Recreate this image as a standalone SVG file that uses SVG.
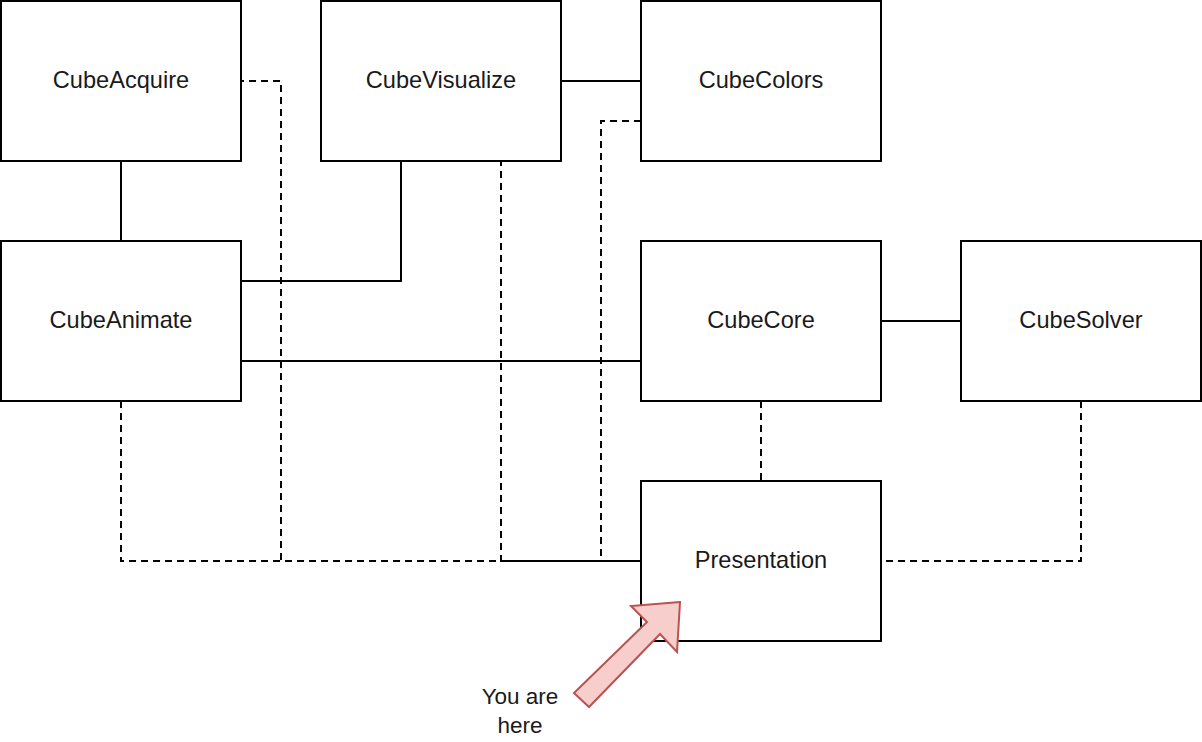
<svg xmlns="http://www.w3.org/2000/svg" width="1202" height="742" viewBox="0 0 1202 742">
<style>
.box{fill:#ffffff;stroke:#000000;stroke-width:2}
.lbl{font-family:"Liberation Sans",Arial,sans-serif;font-size:23.6px;fill:#1a1a1a;text-anchor:middle}
.c{fill:none;stroke:#000000;stroke-width:2}
.d{fill:none;stroke:#000000;stroke-width:2;stroke-dasharray:7 5}
.note{font-family:"Liberation Sans",Arial,sans-serif;font-size:22.5px;fill:#1a1a1a;text-anchor:middle}
</style>
<rect width="1202" height="742" fill="#ffffff"/>
<g id="connectors">
<path class="c" d="M121 161V241"/>
<path class="c" d="M561 81H641"/>
<path class="c" d="M241 281H401V161"/>
<path class="c" d="M241 361H641"/>
<path class="c" d="M881 321H961"/>
<path class="d" d="M761 401V481"/>
<path class="d" d="M1081 401V561H881"/>
<path class="d" d="M121 401V561H641"/>
<path class="d" style="stroke-dashoffset:4" d="M241 81H281V561H641"/>
<path class="d" style="stroke-dashoffset:2" d="M501 161V561H641"/>
<path class="d" d="M641 121H601V561H641"/>
</g>
<g id="CubeAcquire"><rect class="box" x="1" y="1" width="240" height="160"/><text class="lbl" x="121" y="88">CubeAcquire</text></g>
<g id="CubeVisualize"><rect class="box" x="321" y="1" width="240" height="160"/><text class="lbl" x="441" y="88">CubeVisualize</text></g>
<g id="CubeColors"><rect class="box" x="641" y="1" width="240" height="160"/><text class="lbl" x="761" y="88">CubeColors</text></g>
<g id="CubeAnimate"><rect class="box" x="1" y="241" width="240" height="160"/><text class="lbl" x="121" y="328">CubeAnimate</text></g>
<g id="CubeCore"><rect class="box" x="641" y="241" width="240" height="160"/><text class="lbl" x="761" y="328">CubeCore</text></g>
<g id="CubeSolver"><rect class="box" x="961" y="241" width="240" height="160"/><text class="lbl" x="1081" y="328">CubeSolver</text></g>
<g id="Presentation"><rect class="box" x="641" y="481" width="240" height="160"/><text class="lbl" x="761" y="568">Presentation</text></g>
<g id="pointer">
<polygon points="680,602 631,606 647,622 574,693 589,707 660,634 677,652" fill="#f8cecc" stroke="#b85450" stroke-width="2" stroke-linejoin="miter"/>
<text class="note" x="520" y="704">You are</text>
<text class="note" x="520" y="733">here</text>
</g>
</svg>
